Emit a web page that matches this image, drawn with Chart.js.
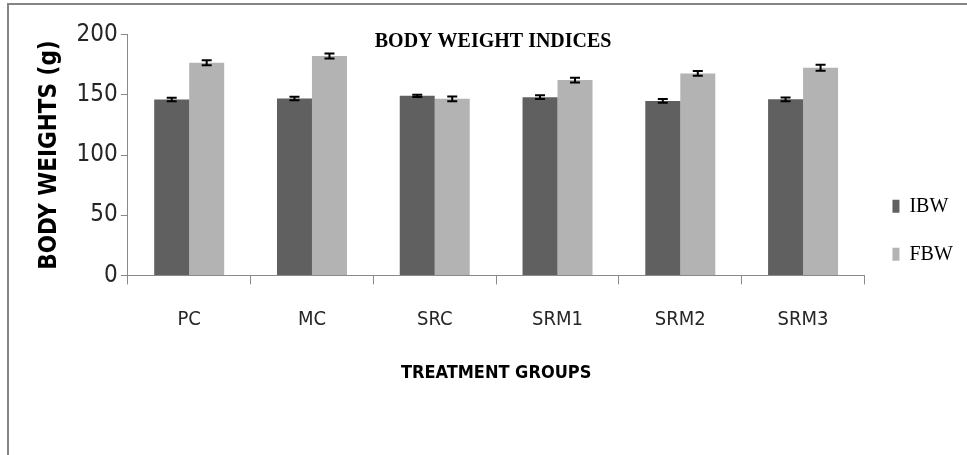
<!DOCTYPE html>
<html>
<head>
<meta charset="utf-8">
<title>Body weight indices</title>
<script src="https://cdn.jsdelivr.net/npm/chart.js@4/dist/chart.umd.min.js"></script>
<style>
  html, body { margin: 0; padding: 0; background: #ffffff; }
  #wrap { position: relative; width: 967px; height: 455px; }
</style>
</head>
<body>
<div id="wrap"><canvas id="chart"></canvas></div>
<script>
// Treatment groups and mean body weights (g) with their error margins
const categories = ['PC', 'MC', 'SRC', 'SRM1', 'SRM2', 'SRM3'];
const ibwValues = [146.2, 147.0, 149.2, 148.1, 145.0, 146.3];
const fbwValues = [176.7, 182.3, 146.7, 162.3, 167.8, 172.5];
const ibwErrors = [1.5, 1.5, 1.0, 1.5, 1.5, 1.5];
const fbwErrors = [2.0, 2.0, 2.0, 2.0, 2.0, 2.5];
const yTickValues = [0, 50, 100, 150, 200];

const chartTitle = 'BODY WEIGHT INDICES';
const axisGray = '#8a8a8a';

// White page with a grey frame along the top and left edges
const framePlugin = {
  id: 'frame',
  beforeDraw(chart) {
    const ctx = chart.ctx;
    ctx.save();
    ctx.fillStyle = '#ffffff';
    ctx.fillRect(0, 0, chart.width, chart.height);
    ctx.strokeStyle = '#858585';
    ctx.lineWidth = 2;
    ctx.beginPath();
    ctx.moveTo(8, chart.height + 2);
    ctx.lineTo(8, 4);
    ctx.lineTo(chart.width + 2, 4);
    ctx.stroke();
    ctx.restore();
  }
};

// Title sits inside the top of the plot area
const innerTitlePlugin = {
  id: 'innerTitle',
  afterDraw(chart) {
    const ctx = chart.ctx;
    const area = chart.chartArea;
    ctx.save();
    ctx.font = 'bold 20px "Liberation Serif", "Times New Roman", serif';
    ctx.fillStyle = '#000000';
    ctx.textAlign = 'center';
    ctx.textBaseline = 'middle';
    ctx.fillText(chartTitle, (area.left + area.right) / 2 - 3, area.top + 7);
    ctx.restore();
  }
};

// Error bars: +/- error around each bar top, drawn through the y scale
const errorBarPlugin = {
  id: 'errorBars',
  afterDatasetsDraw(chart) {
    const ctx = chart.ctx;
    const yScale = chart.scales.y;
    ctx.save();
    ctx.strokeStyle = '#000000';
    ctx.lineWidth = 2;
    chart.data.datasets.forEach((ds, di) => {
      const meta = chart.getDatasetMeta(di);
      meta.data.forEach((bar, i) => {
        const v = ds.data[i];
        const e = ds.errors[i];
        const x = bar.x;
        const yHi = yScale.getPixelForValue(v + e);
        const yLo = yScale.getPixelForValue(v - e);
        const cap = 5;
        ctx.beginPath();
        ctx.moveTo(x, yHi);
        ctx.lineTo(x, yLo);
        ctx.moveTo(x - cap, yHi);
        ctx.lineTo(x + cap, yHi);
        ctx.moveTo(x - cap, yLo);
        ctx.lineTo(x + cap, yLo);
        ctx.stroke();
      });
    });
    ctx.restore();
  }
};

new Chart(document.getElementById('chart'), {
  type: 'bar',
  data: {
    labels: categories,
    datasets: [
      {
        label: 'IBW',
        data: ibwValues,
        errors: ibwErrors,
        backgroundColor: '#606060',
        borderWidth: 0,
        categoryPercentage: 0.57,
        barPercentage: 1.0
      },
      {
        label: 'FBW',
        data: fbwValues,
        errors: fbwErrors,
        backgroundColor: '#b3b3b3',
        borderWidth: 0,
        categoryPercentage: 0.57,
        barPercentage: 1.0
      }
    ]
  },
  options: {
    responsive: true,
    maintainAspectRatio: false,
    animation: false,
    devicePixelRatio: 1,
    layout: {
      padding: { left: 32.8, top: 34.7, right: 4.2, bottom: 29.2 }
    },
    plugins: {
      title: { display: false },
      tooltip: { enabled: false },
      legend: {
        display: true,
        position: 'right',
        align: 'center',
        labels: {
          boxWidth: 7,
          boxHeight: 13,
          padding: 28,
          color: '#000000',
          font: { family: '"Liberation Serif", "Times New Roman", serif', size: 20 }
        }
      }
    },
    scales: {
      x: {
        offset: true,
        border: { display: true, color: axisGray, width: 1 },
        grid: {
          offset: true,
          drawOnChartArea: false,
          drawTicks: true,
          tickLength: 9,
          color: axisGray
        },
        ticks: {
          padding: 23.8,
          color: '#262626',
          font: { family: '"DejaVu Sans Condensed", "DejaVu Sans", sans-serif', size: 20 }
        },
        title: {
          display: true,
          text: 'TREATMENT GROUPS',
          color: '#000000',
          padding: { top: 6.2, bottom: 42 },
          font: { family: '"DejaVu Sans Condensed", "DejaVu Sans", sans-serif', size: 18, weight: 'bold' }
        }
      },
      y: {
        min: yTickValues[0],
        max: yTickValues[yTickValues.length - 1],
        afterBuildTicks(scale) {
          scale.ticks = yTickValues.map(v => ({ value: v }));
        },
        border: { display: true, color: axisGray, width: 1 },
        grid: {
          drawOnChartArea: false,
          drawTicks: true,
          tickLength: 7,
          color: axisGray
        },
        ticks: {
          padding: 3,
          color: '#262626',
          font: { family: '"DejaVu Sans Condensed", "DejaVu Sans", sans-serif', size: 24 }
        },
        title: {
          display: true,
          text: 'BODY WEIGHTS (g)',
          color: '#000000',
          padding: { top: 3, bottom: 9 },
          font: { family: '"DejaVu Sans Condensed", "DejaVu Sans", sans-serif', size: 24, weight: 'bold' }
        }
      }
    }
  },
  plugins: [framePlugin, innerTitlePlugin, errorBarPlugin]
});
</script>
</body>
</html>
